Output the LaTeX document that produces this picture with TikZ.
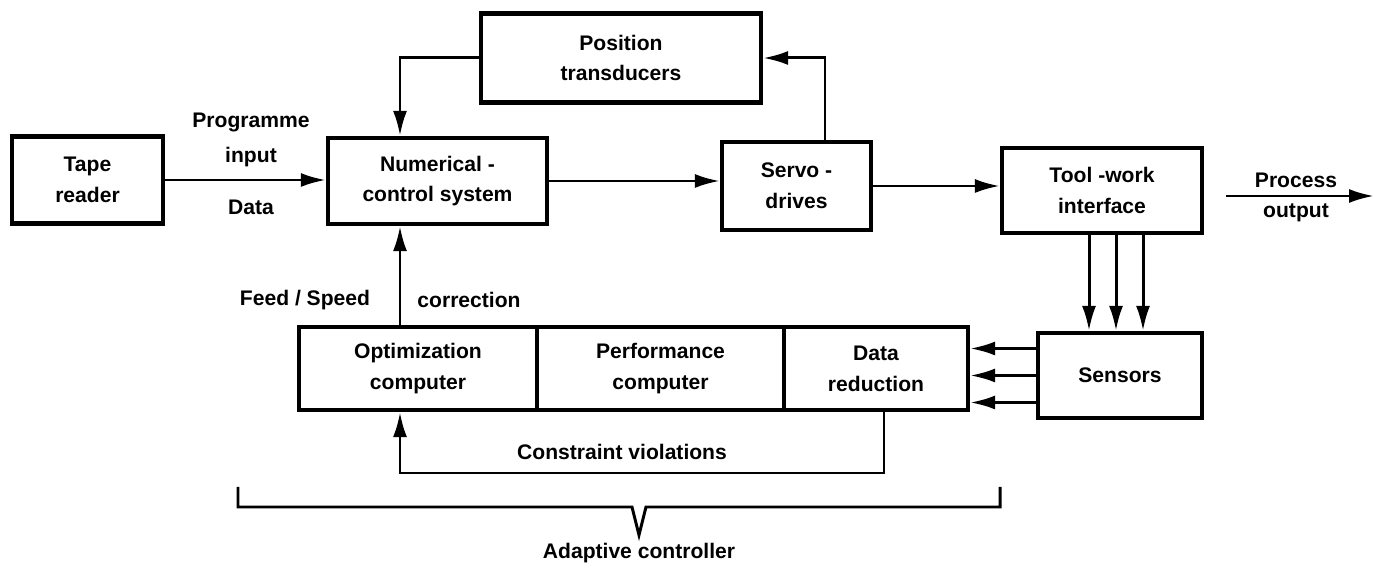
\documentclass[tikz,border=0pt]{standalone}
\usepackage{fontspec}
\setmainfont{Liberation Sans}
\usetikzlibrary{arrows.meta}
\begin{document}
\begin{tikzpicture}[x=0.2mm,y=-0.2mm,
    font=\bfseries\fontsize{12}{17.5}\selectfont,
    blok/.style={draw,line width=2.4pt,align=center,inner sep=0pt},
    lbl/.style={inner sep=0pt},
    sig/.style={line width=1.7pt,-{Latex[length=5mm,width=2.8mm]}},
    line/.style={line width=1.7pt}]
  \useasboundingbox (0,0) rectangle (1375,567);
  \node[blok,minimum width=30.2mm,minimum height=17.4mm] (tape) at (87.5,180) {Tape\\reader};
  \node[blok,minimum width=43.8mm,minimum height=17.2mm] (nc) at (437.5,181) {Numerical -\\control system};
  \node[blok,minimum width=56mm,minimum height=17.8mm] (pos) at (621,58) {Position\\transducers};
  \node[blok,minimum width=29.8mm,minimum height=17.6mm] (servo) at (796.5,186) {Servo -\\drives};
  \node[blok,minimum width=40mm,minimum height=17mm] (tool) at (1102,190.5) {Tool -work\\interface};
  \node[blok,minimum width=32.8mm,minimum height=17mm] (sensors) at (1120,375.5) {Sensors};
  \node[blok,minimum width=47.6mm,minimum height=16.6mm] (opt) at (418,368.5) {Optimization\\computer};
  \node[blok,minimum width=49.4mm,minimum height=16.6mm] (perf) at (660.5,368.5) {Performance\\computer};
  \node[blok,minimum width=36.8mm,minimum height=16.6mm] (red) at (876,368.5) {Data\\reduction};

  \node[lbl] (prog) at (251,122) {Programme};
  \node[lbl] (inp) at (251,157) {input};
  \node[lbl] (data) at (251,207) {Data};
  \node[lbl] (proc) at (1296,180) {Process};
  \node[lbl] (outp) at (1296,213) {output};
  \node[lbl] (feed) at (305,300) {Feed / Speed};
  \node[lbl] (corr) at (469,300) {correction};
  \node[lbl] (viol) at (622,452) {Constraint violations};
  \node[lbl] (adapt) at (639,553) {Adaptive controller};

  \coordinate (fb) at (400,0);
  \coordinate (rs) at (825,0);
  \coordinate (po1) at (1226,196);
  \coordinate (po2) at (1374,196);
  \coordinate (cv) at (884,473);

  \draw[sig] (tape.east) -- (tape.east -| nc.west);
  \draw[sig] (pos.west) -| (nc.north -| fb);
  \draw[sig] (servo.north -| rs) |- (pos.east);
  \draw[sig] (nc.east) -- (nc.east -| servo.west);
  \draw[sig] (servo.east) -- (servo.east -| tool.west);
  \draw[sig] (po1) -- (po2);
  \foreach \d in {-2.6,2.8,8.2}
    \draw[sig] ([xshift=\d mm]tool.south) -- ([xshift=\d mm]tool.south |- sensors.north);
  \foreach \d in {5.4,0,-5.4}
    \draw[sig] ([yshift=\d mm]sensors.west) -- ([yshift=\d mm]sensors.west -| red.east);
  \draw[sig] (opt.north -| fb) -- (nc.south -| fb);
  \draw[sig] (red.south -| cv) -- (cv) -| (opt.south -| fb);

  \draw[line] (238,487) -- (238,507) -- (632,507) -- (639,535) -- (646,507) -- (1000,507) -- (1000,487);
\end{tikzpicture}
\end{document}
